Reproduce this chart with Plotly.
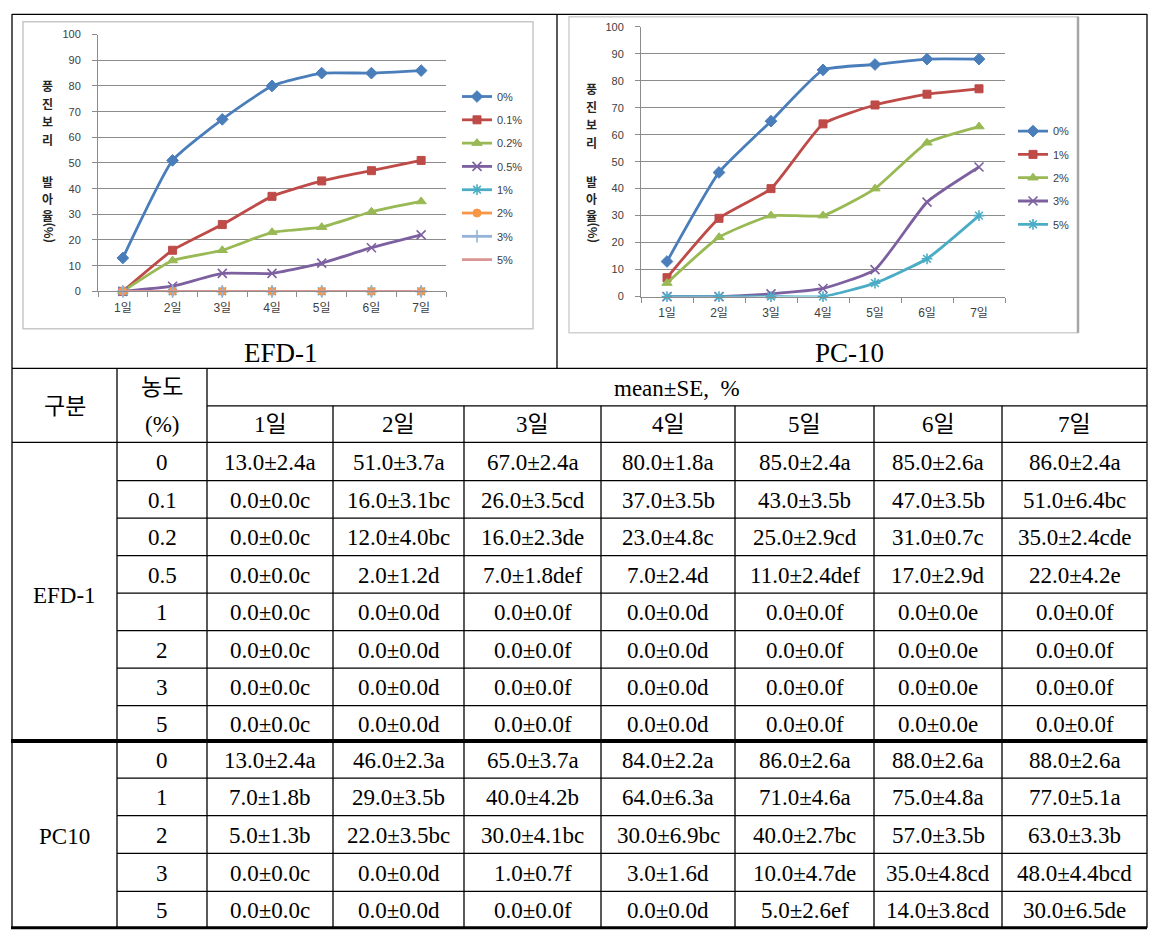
import plotly.graph_objects as go

W, H = 1157, 947

# ---------------- data ----------------
days = ['1일', '2일', '3일', '4일', '5일', '6일', '7일']

efd_labels = ['0%', '0.1%', '0.2%', '0.5%', '1%', '2%', '3%', '5%']
efd_conc = ['0', '0.1', '0.2', '0.5', '1', '2', '3', '5']
efd_mean = [
    [13.0, 51.0, 67.0, 80.0, 85.0, 85.0, 86.0],
    [0.0, 16.0, 26.0, 37.0, 43.0, 47.0, 51.0],
    [0.0, 12.0, 16.0, 23.0, 25.0, 31.0, 35.0],
    [0.0, 2.0, 7.0, 7.0, 11.0, 17.0, 22.0],
    [0.0, 0.0, 0.0, 0.0, 0.0, 0.0, 0.0],
    [0.0, 0.0, 0.0, 0.0, 0.0, 0.0, 0.0],
    [0.0, 0.0, 0.0, 0.0, 0.0, 0.0, 0.0],
    [0.0, 0.0, 0.0, 0.0, 0.0, 0.0, 0.0],
]
efd_se = [
    [2.4, 3.7, 2.4, 1.8, 2.4, 2.6, 2.4],
    [0.0, 3.1, 3.5, 3.5, 3.5, 3.5, 6.4],
    [0.0, 4.0, 2.3, 4.8, 2.9, 0.7, 2.4],
    [0.0, 1.2, 1.8, 2.4, 2.4, 2.9, 4.2],
    [0.0, 0.0, 0.0, 0.0, 0.0, 0.0, 0.0],
    [0.0, 0.0, 0.0, 0.0, 0.0, 0.0, 0.0],
    [0.0, 0.0, 0.0, 0.0, 0.0, 0.0, 0.0],
    [0.0, 0.0, 0.0, 0.0, 0.0, 0.0, 0.0],
]
efd_letters = [
    ['a', 'a', 'a', 'a', 'a', 'a', 'a'],
    ['c', 'bc', 'cd', 'b', 'b', 'b', 'bc'],
    ['c', 'bc', 'de', 'c', 'cd', 'c', 'cde'],
    ['c', 'd', 'def', 'd', 'def', 'd', 'e'],
    ['c', 'd', 'f', 'd', 'f', 'e', 'f'],
    ['c', 'd', 'f', 'd', 'f', 'e', 'f'],
    ['c', 'd', 'f', 'd', 'f', 'e', 'f'],
    ['c', 'd', 'f', 'd', 'f', 'e', 'f'],
]

pc_labels = ['0%', '1%', '2%', '3%', '5%']
pc_conc = ['0', '1', '2', '3', '5']
pc_mean = [
    [13.0, 46.0, 65.0, 84.0, 86.0, 88.0, 88.0],
    [7.0, 29.0, 40.0, 64.0, 71.0, 75.0, 77.0],
    [5.0, 22.0, 30.0, 30.0, 40.0, 57.0, 63.0],
    [0.0, 0.0, 1.0, 3.0, 10.0, 35.0, 48.0],
    [0.0, 0.0, 0.0, 0.0, 5.0, 14.0, 30.0],
]
pc_se = [
    [2.4, 2.3, 3.7, 2.2, 2.6, 2.6, 2.6],
    [1.8, 3.5, 4.2, 6.3, 4.6, 4.8, 5.1],
    [1.3, 3.5, 4.1, 6.9, 2.7, 3.5, 3.3],
    [0.0, 0.0, 0.7, 1.6, 4.7, 4.8, 4.4],
    [0.0, 0.0, 0.0, 0.0, 2.6, 3.8, 6.5],
]
pc_letters = [
    ['a', 'a', 'a', 'a', 'a', 'a', 'a'],
    ['b', 'b', 'b', 'a', 'a', 'a', 'a'],
    ['b', 'bc', 'bc', 'bc', 'bc', 'b', 'b'],
    ['c', 'd', 'f', 'd', 'de', 'cd', 'bcd'],
    ['c', 'd', 'f', 'd', 'ef', 'cd', 'de'],
]

y_ticks = [0, 10, 20, 30, 40, 50, 60, 70, 80, 90, 100]

# ---------------- styles ----------------
efd_styles = [
    ('#4A7EBB', 'diamond', 9),
    ('#BE4B48', 'square', 8),
    ('#98B954', 'triangle-up', 9),
    ('#7D60A0', 'x-thin', 9),
    ('#4BACC6', 'asterisk', 9),
    ('#F79646', 'circle', 8),
    ('#95B3D7', 'cross-thin', 9),
    ('#D99694', None, 0),
]
pc_styles = [
    ('#4A7EBB', 'diamond', 9),
    ('#BE4B48', 'square', 8),
    ('#98B954', 'triangle-up', 9),
    ('#7D60A0', 'x-thin', 9),
    ('#4BACC6', 'asterisk', 9),
]


def fx(px):
    return px / W


def fy(py):
    return 1 - py / H


fig = go.Figure()


def add_series(labels, means, styles, xa, ya, legend, prefix):
    for lab, vals, (col, sym, sz) in zip(labels, means, styles):
        thin = sym in ('x-thin', 'asterisk', 'cross-thin')
        mk = dict(color=col, size=sz, line=dict(color=col, width=1.6 if thin else 1))
        if sym:
            mk['symbol'] = sym
        fig.add_trace(go.Scatter(
            x=days, y=vals, name=lab, xaxis=xa, yaxis=ya,
            mode='lines+markers' if sym else 'lines',
            line=dict(color=col, width=2.8, shape='spline', smoothing=0.45),
            marker=mk, cliponaxis=False, legend=legend,
            legendgroup=prefix + lab,
        ))


add_series(efd_labels, efd_mean, efd_styles, 'x', 'y', 'legend', 'efd')
add_series(pc_labels, pc_mean, pc_styles, 'x2', 'y2', 'legend2', 'pc')

tick_font = dict(family='Liberation Sans, Noto Sans CJK KR', size=12, color='#404040')
grid_col = '#8C8C8C'


def xaxis_cfg(x0, x1, yref):
    return dict(domain=[fx(x0), fx(x1)], type='category', range=[-0.5, 6.5],
                showline=True, linecolor=grid_col, linewidth=1,
                ticks='outside', ticklen=5, tickcolor=grid_col, tickson='boundaries',
                showgrid=False, tickfont=tick_font, anchor=yref,
                ticklabelstandoff=5, fixedrange=True)


def yaxis_cfg(y0, y1, xref):
    return dict(domain=[fy(y0), fy(y1)], range=[0, 100], tickvals=y_ticks,
                showline=True, linecolor=grid_col, linewidth=1,
                ticks='outside', ticklen=5, tickcolor=grid_col,
                showgrid=True, gridcolor=grid_col, gridwidth=1, zeroline=False,
                tickfont=dict(family='Liberation Sans', size=11, color='#404040'),
                anchor=xref, ticklabelstandoff=9, fixedrange=True)


legend_common = dict(bgcolor='rgba(0,0,0,0)', borderwidth=0, xanchor='left', yanchor='top',
                     font=dict(family='Liberation Sans', size=11, color='#404040'),
                     tracegroupgap=4.3, itemwidth=30, itemclick=False)

fig.update_layout(
    width=W, height=H, margin=dict(l=0, r=0, t=0, b=0),
    paper_bgcolor='white', plot_bgcolor='white',
    xaxis=xaxis_cfg(98, 446, 'y'),
    yaxis=yaxis_cfg(289, 29, 'x'),
    xaxis2=xaxis_cfg(641, 1005, 'y2'),
    yaxis2=yaxis_cfg(294.3, 21, 'x2'),
    legend=dict(x=fx(457), y=fy(77), **legend_common),
    legend2=dict(x=fx(1013), y=fy(112), **legend_common),
)

shapes = []


def line(x0, y0, x1, y1, w=1.3, col='black'):
    shapes.append(dict(type='line', xref='paper', yref='paper',
                       x0=fx(x0), y0=fy(y0), x1=fx(x1), y1=fy(y1),
                       line=dict(color=col, width=w)))


# chart-area gray boxes
shapes.append(dict(type='rect', xref='paper', yref='paper', x0=fx(23), x1=fx(533), y0=fy(327), y1=fy(16),
                   line=dict(color='#C8C8C8', width=1.5), layer='below'))
shapes.append(dict(type='rect', xref='paper', yref='paper', x0=fx(569), x1=fx(1078), y0=fy(331), y1=fy(11),
                   line=dict(color='#D0D0D0', width=1.5), layer='below'))
line(1078, 11, 1078, 331, 2.5, '#A6A6A6')

# outer frame of chart section
L, R = 12, 1147
line(L, 8.5, R, 8.5)
line(L, 8, L, 367)
line(R, 8, R, 367)
line(557, 8, 557, 367)

# table grid
col_x = [12, 117, 207, 333, 464, 601, 735, 874, 1002, 1147]
top, hsplit, hbot = 367, 405, 442
efd_rows = [442, 480.7, 518.7, 556.7, 594.7, 632.7, 670.7, 708.7, 744.5]
pc_rows = [744.5, 782, 820, 858.3, 896.7, 933.5]

line(L, top, R, top)
line(col_x[2], hsplit, R, hsplit)
line(L, hbot, R, hbot)
for yy in efd_rows[1:-1]:
    line(col_x[1], yy, R, yy)
for yy in pc_rows[1:-1]:
    line(col_x[1], yy, R, yy)
line(L - 1, efd_rows[-1], R, efd_rows[-1], 4)
line(L - 1, pc_rows[-1], R, pc_rows[-1], 3)
for cx in col_x[:3] + col_x[-1:]:
    line(cx, top, cx, pc_rows[-1])
for cx in col_x[3:-1]:
    line(cx, hsplit, cx, pc_rows[-1])

annotations = []
serif = 'Liberation Serif, Noto Sans CJK KR'
TS = 23


def text(px, py, s, size=TS, family=serif, color='black', bold=False, angle=0):
    annotations.append(dict(xref='paper', yref='paper', x=fx(px), y=fy(py), text=('<b>%s</b>' % s) if bold else s,
                            showarrow=False, xanchor='center', yanchor='middle', textangle=angle,
                            font=dict(family=family, size=size, color=color)))


# chart titles
text(281, 351, 'EFD-1', size=27)
text(849, 351, 'PC-10', size=27)

# vertical axis titles (stacked)
ytitle_top = ['풍', '진', '보', '리']
ytitle_bot = ['발', '아', '율']
for cx, y_start, y_start2 in [(47, 81, 178), (591, 84, 178)]:
    for i, ch in enumerate(ytitle_top):
        text(cx, y_start + 18 * i, ch, size=12, family='Noto Sans CJK KR', color='#262626', bold=True)
    for i, ch in enumerate(ytitle_bot):
        text(cx, y_start2 + 17 * i, ch, size=12, family='Noto Sans CJK KR', color='#262626', bold=True)
    text(cx, y_start2 + 52, '(%)', size=12, family='Noto Sans CJK KR', color='#262626', bold=True, angle=-90)

# table header
text((col_x[0] + col_x[1]) / 2, 406, '구분')
text((col_x[1] + col_x[2]) / 2, 386, '농도')
text((col_x[1] + col_x[2]) / 2, 424, '(%)')
text((col_x[2] + col_x[-1]) / 2, 387, 'mean±SE,  %')
for j, d in enumerate(days):
    text((col_x[2 + j] + col_x[3 + j]) / 2, 424, d)

# group labels
text((col_x[0] + col_x[1]) / 2, (efd_rows[0] + efd_rows[-1]) / 2 + 4, 'EFD-1')
text((col_x[0] + col_x[1]) / 2, (pc_rows[0] + pc_rows[-1]) / 2 + 2, 'PC10')


def fill_rows(rows, concs, means, ses, letters):
    for i, c in enumerate(concs):
        cy = (rows[i] + rows[i + 1]) / 2 + 1
        text((col_x[1] + col_x[2]) / 2, cy, c)
        for j in range(len(days)):
            s = '%.1f±%.1f%s' % (means[i][j], ses[i][j], letters[i][j])
            text((col_x[2 + j] + col_x[3 + j]) / 2, cy, s)


fill_rows(efd_rows, efd_conc, efd_mean, efd_se, efd_letters)
fill_rows(pc_rows, pc_conc, pc_mean, pc_se, pc_letters)

fig.update_layout(shapes=shapes, annotations=annotations)
fig.write_html(
    'out.html',
    config={'displayModeBar': False, 'staticPlot': True},
    post_script=("document.body.style.margin='0';"
                 "document.body.style.overflow='hidden';"
                 "document.documentElement.style.overflow='hidden';"),
)
